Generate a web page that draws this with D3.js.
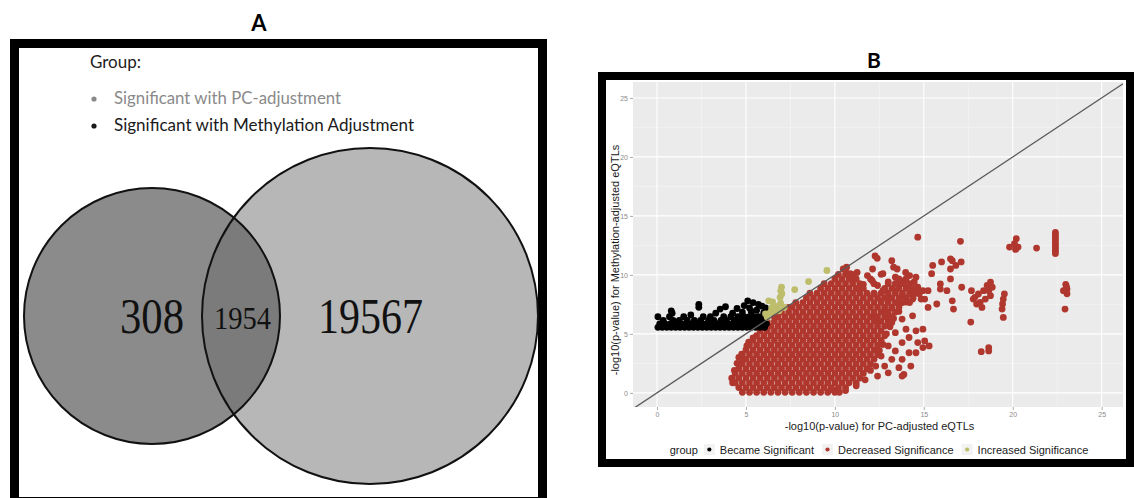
<!DOCTYPE html>
<html>
<head>
<meta charset="utf-8">
<script src="https://cdn.jsdelivr.net/npm/d3@7"></script>
<style>
    body{margin:0;background:#fff;}
    svg{display:block;}
</style>
</head>
<body>
<svg id="chart" width="1134" height="498"></svg>
<script>
/**
 * Panel A: the two groups of the venn diagram and the counts
 * (only PC, both, only methylation)
 */
var vennGroups = ["Significant with PC-adjustment", "Significant with Methylation Adjustment"];
var vennCounts = [308, 1954, 19567];

/**
 * Panel B: groups, axis ticks and the points per group [x, y]
 */
var groups = ["Became Significant", "Decreased Significance", "Increased Significance"];
var xTicks = [0, 5, 10, 15, 20, 25];
var yTicks = [0, 5, 10, 15, 20, 25];

var becameSignificant = [
    [0.05,5.55],[0.3,5.55],[0.55,5.55],[0.8,5.55],[1.05,5.55],[1.3,5.55],[1.55,5.55],[1.8,5.55],[2.05,5.55],[2.3,5.55],
    [2.55,5.55],[2.8,5.55],[3.05,5.55],[3.3,5.55],[3.55,5.55],[3.8,5.55],[4.05,5.55],[4.3,5.55],[4.55,5.55],[4.8,5.55],
    [5.05,5.55],[5.3,5.55],[5.55,5.55],[5.8,5.55],[6.05,5.55],
    [0.15,5.85],[0.45,5.85],[0.75,5.85],[1.0,5.85],[1.35,5.85],[1.6,5.85],[1.95,5.85],[2.2,5.85],[2.5,5.85],[2.75,5.85],
    [3.1,5.85],[3.4,5.85],[3.65,5.85],[3.95,5.85],[4.2,5.85],[4.5,5.85],[4.75,5.85],[5.0,5.85],[5.3,5.85],[5.6,5.85],
    [5.85,5.85],[6.15,5.85],
    [0.35,6.15],[0.9,6.15],[1.25,6.15],[1.7,6.15],[2.1,6.15],[2.45,6.15],[2.9,6.15],[3.2,6.15],[3.6,6.15],[3.9,6.15],
    [4.35,6.15],[4.65,6.15],[4.95,6.15],[5.25,6.15],[5.5,6.15],[5.75,6.15],[6.0,6.15],
    [0.05,6.45],[0.7,6.45],[1.5,6.45],[2.6,6.45],[3.0,6.45],[3.75,6.45],[4.15,6.45],[4.55,6.45],[4.9,6.45],[5.2,6.45],
    [5.45,6.45],[5.7,6.45],[5.95,6.45],
    [0.8,6.95],[0.85,6.75],[2.35,7.5],[2.35,7.25],[3.55,7.1],[3.85,7.3],[4.25,6.75],[4.5,7.15],[4.8,6.85],[5.1,7.8],
    [5.4,7.65],[5.7,7.5],[5.9,7.35],[6.1,7.2],[5.2,7.2],[4.9,7.4],[5.6,7.0],[5.3,6.9],[6.0,6.8],[1.9,6.6],[3.3,6.75]
];

var increasedSignificance = [
    [6.2,6.4],[6.37,6.8],[6.28,7.8],[6.5,7.7],[6.76,7.33],[6.92,8.1],[6.96,8.66],[7.0,8.95],[7.02,8.4],[6.86,6.96],
    [7.15,7.24],[7.74,8.75],[8.52,9.43],[9.55,10.37],[6.1,6.7],[6.45,7.2],[6.6,6.9],[6.95,7.6]
];

// dense part of the decreased significance cloud, one row per y value
var decreasedRows = [
    [0.05,  [4.8,5.2,5.6,6.0,6.4,6.8,7.2,7.6,8.0,8.4,8.8,9.2,9.6,10.0,10.25]],
    [0.45,  [4.6,5.0,5.4,5.8,6.2,6.6,7.0,7.4,7.8,8.2,8.6,9.0,9.4,9.8,10.2,10.6]],
    [0.85,  [4.25,4.4,4.8,5.2,5.6,6.0,6.4,6.8,7.2,7.6,8.0,8.4,8.8,9.2,9.6,10.0,10.4,10.8,11.2]],
    [1.25,  [4.2,4.6,5.0,5.4,5.8,6.2,6.6,7.0,7.4,7.8,8.2,8.6,9.0,9.4,9.8,10.2,10.6,11.0,11.4]],
    [1.65,  [4.4,4.8,5.2,5.6,6.0,6.4,6.8,7.2,7.6,8.0,8.4,8.8,9.2,9.6,10.0,10.4,10.8,11.2,11.6]],
    [2.05,  [4.6,5.0,5.4,5.8,6.2,6.6,7.0,7.4,7.8,8.2,8.6,9.0,9.4,9.8,10.2,10.6,11.0,11.4,11.8]],
    [2.45,  [4.8,5.2,5.6,6.0,6.4,6.8,7.2,7.6,8.0,8.4,8.8,9.2,9.6,10.0,10.4,10.8,11.2,11.6,12.0]],
    [2.85,  [4.8,5.0,5.4,5.8,6.2,6.6,7.0,7.4,7.8,8.2,8.6,9.0,9.4,9.8,10.2,10.6,11.0,11.4,11.8,12.2]],
    [3.25,  [4.8,5.2,5.6,6.0,6.4,6.8,7.2,7.6,8.0,8.4,8.8,9.2,9.6,10.0,10.4,10.8,11.2,11.6,12.0,12.4]],
    [3.65,  [5.0,5.4,5.8,6.2,6.6,7.0,7.4,7.8,8.2,8.6,9.0,9.4,9.8,10.2,10.6,11.0,11.4,11.8,12.2]],
    [4.05,  [5.2,5.6,6.0,6.4,6.8,7.2,7.6,8.0,8.4,8.8,9.2,9.6,10.0,10.4,10.8,11.2,11.6,12.0,12.4]],
    [4.45,  [5.4,5.8,6.2,6.6,7.0,7.4,7.8,8.2,8.6,9.0,9.4,9.8,10.2,10.6,11.0,11.4,11.8,12.2,12.6]],
    [4.85,  [5.6,6.0,6.4,6.8,7.2,7.6,8.0,8.4,8.8,9.2,9.6,10.0,10.4,10.8,11.2,11.6,12.0,12.4]],
    [5.25,  [5.8,6.2,6.6,7.0,7.4,7.8,8.2,8.6,9.0,9.4,9.8,10.2,10.6,11.0,11.4,11.8,12.2,12.6]],
    [5.65,  [6.0,6.4,6.8,7.2,7.6,8.0,8.4,8.8,9.2,9.6,10.0,10.4,10.8,11.2,11.6,12.0,12.4,12.8]],
    [6.05,  [6.2,6.6,7.0,7.4,7.8,8.2,8.6,9.0,9.4,9.8,10.2,10.6,11.0,11.4,11.8,12.2,12.6,13.0]],
    [6.45,  [6.6,6.8,7.2,7.6,8.0,8.4,8.8,9.2,9.6,10.0,10.4,10.8,11.2,11.6,12.0,12.4,12.8,13.2]],
    [6.85,  [7.0,7.4,7.8,8.2,8.6,9.0,9.4,9.8,10.2,10.6,11.0,11.4,11.8,12.2,12.6,13.0,13.4]],
    [7.25,  [7.4,7.6,8.0,8.4,8.8,9.2,9.6,10.0,10.4,10.8,11.2,11.6,12.0,12.4,12.8,13.2,13.6]],
    [7.65,  [7.8,8.2,8.6,9.0,9.4,9.8,10.2,10.6,11.0,11.4,11.8,12.2,12.6,13.0,13.4,13.8,14.2]],
    [8.05,  [8.4,8.8,9.2,9.6,10.0,10.4,10.8,11.2,11.6,12.0,12.4,12.8,13.2,13.6,14.0,14.4]],
    [8.45,  [8.6,9.0,9.4,9.8,10.2,10.6,11.0,11.4,11.8,12.2,12.6,13.0,13.4,13.8,14.2,14.6]],
    [8.85,  [9.2,9.6,10.0,10.4,10.8,11.2,11.6,12.8,13.2,13.6,14.0,14.4]],
    [9.25,  [9.4,9.8,10.2,10.6,11.0,11.4,12.2,13.0,13.4,13.8,14.2]],
    [9.65,  [10.0,10.4,10.8,11.2,12.0,13.6,14.0]],
    [10.05, [10.2,10.6,11.0,12.6]],
    [10.45, [10.6]]
];

// the scattered part of the decreased significance cloud
var decreasedScatter = [
    [4.23,1.2],[4.76,3.27],[5.05,3.98],[9.78,0.28],[10.1,0.23],
    [4.35,1.9],[4.5,2.5],[4.6,3.0],[5.15,4.3],[5.4,4.65],[5.9,5.5],
    [12.5,3.6],[12.7,4.1],[12.9,5.0],[13.1,5.6],[13.3,6.3],[13.6,6.9],[12.0,1.9],[11.7,1.1],[11.2,0.6],[10.6,0.2],
    [11.83,9.94],[12.12,10.5],[12.26,11.6],[12.38,11.4],[12.7,10.1],[13.2,11.2],[13.3,10.65],[13.4,9.8],[13.9,9.5],[14.2,9.94],
    [14.46,9.4],[14.66,8.95],[14.75,8.4],[14.37,7.95],[13.8,8.2],[13.4,8.66],[13.0,8.1],[12.6,7.8],[12.4,9.1],[13.0,9.4],
    [13.6,9.2],[14.07,8.95],[14.56,8.5],[14.27,8.4],[14.0,7.7],[13.6,7.5],[13.2,7.2],[12.8,7.0],[12.7,8.66],[12.2,8.4],
    [12.1,9.5],[11.6,9.2],[11.3,8.8],[11.05,9.66],[10.86,10.1],[10.66,10.65],[10.47,10.5],[11.25,10.2],[14.85,7.95],[14.95,8.66],
    [14.56,9.8],[13.98,10.2],[13.5,10.5],
    [14.56,5.26],[14.95,5.4],[15.05,4.4],[15.3,3.98],[14.95,3.84],[14.17,3.4],[14.27,2.27],[13.88,1.56],[13.6,2.13],[13.2,2.84],
    [13.4,3.55],[13.0,3.98],[13.78,4.26],[14.17,4.69],[13.4,5.1],[12.8,4.83],[12.6,3.12],[12.8,2.27],[12.4,1.42],[13.0,1.7],
    [13.78,2.84],[14.56,3.4],[14.66,4.26],[14.0,5.4],[13.2,5.97],[13.78,6.25],[14.37,6.53],[13.0,6.53],[12.4,5.97],[12.2,6.5],
    [12.3,2.27],[13.78,1.42],
    [15.44,10.1],[15.93,9.23],[16.0,11.1],[16.5,11.36],[16.5,10.5],[17.1,11.1],[17.06,12.84],[17.13,8.95],[16.6,7.8],[16.67,7.1],
    [15.24,8.66],[15.05,7.95],[15.24,7.24],[15.73,7.53],[15.93,8.8],[16.3,8.66],[16.5,9.66],[16.8,10.8],[16.6,11.2],[15.5,10.8],
    [14.66,13.2],
    [17.64,6.0],[17.68,8.66],[17.87,8.1],[18.07,8.38],[18.17,7.67],[18.36,8.66],[18.56,9.1],[18.65,8.66],[18.75,8.24],[18.46,7.95],
    [18.27,7.24],[17.97,7.53],[17.78,7.95],[18.85,8.95],[18.75,9.38],[18.65,3.55],[18.65,3.84],[18.23,3.49],[19.47,6.39],[19.43,7.53],
    [19.47,7.95],[19.4,7.1],[19.53,8.38],
    [19.82,12.36],[20.1,12.64],[20.2,13.07],[20.16,12.16],[20.3,12.36],[21.34,12.27],
    [22.4,13.6],[22.4,13.4],[22.4,13.2],[22.4,13.0],[22.4,12.8],[22.4,12.6],[22.4,12.4],[22.4,12.2],[22.4,12.0],[22.4,11.8],
    [22.98,9.2],[23.02,9.0],[23.05,8.8],[23.0,8.6],[23.05,8.4],[22.85,8.66],[22.94,7.1]
];

var groupColors = ["#000000", "#b0372e", "#bdbd6c"];

var svg = d3.select('#chart');

/**
 * Draws the venn diagram of panel A
 */
var drawVenn = function(){
    var g = svg.append('g').classed('panel-a', true);

    //panel title
    g.append('text').attr('x', 259).attr('y', 31)
        .attr('text-anchor', 'middle')
        .style('font', 'bold 22px Lato, "Open Sans", sans-serif')
        .text('A');

    //thick frame
    g.append('rect').attr('x', 14.5).attr('y', 43.5)
        .attr('width', 528).attr('height', 458)
        .attr('fill', '#fff').attr('stroke', '#000').attr('stroke-width', 9);

    //legend
    var legendFont = '17px Lato, "Open Sans", sans-serif';
    g.append('text').attr('x', 90).attr('y', 68)
        .style('font', legendFont).attr('fill', '#222').text('Group:');
    var legendColors = ['#8a8a8a', '#1a1a1a'];
    var legendWidths = [227, 300];
    vennGroups.forEach(function(name, i){
        var cy = 99 + i * 27;
        g.append('circle').attr('cx', 94).attr('cy', cy).attr('r', 2.6).attr('fill', legendColors[i]);
        g.append('text').attr('x', 114).attr('y', cy + 5)
            .style('font', legendFont).attr('fill', legendColors[i])
            .attr('textLength', legendWidths[i]).attr('lengthAdjust', 'spacingAndGlyphs')
            .text(name);
    });

    //the two circles, right one first
    var circles = [{cx: 152, cy: 316, r: 128}, {cx: 370, cy: 316, r: 168}];
    g.append('circle').attr('cx', circles[1].cx).attr('cy', circles[1].cy).attr('r', circles[1].r)
        .attr('fill', '#b7b7b7');
    g.append('circle').attr('cx', circles[0].cx).attr('cy', circles[0].cy).attr('r', circles[0].r)
        .attr('fill', '#6a6a6a').attr('fill-opacity', 0.78);
    g.selectAll('circle.outline').data(circles).enter()
        .append('circle').classed('outline', true)
        .attr('cx', function(d){return d.cx;}).attr('cy', function(d){return d.cy;})
        .attr('r', function(d){return d.r;})
        .attr('fill', 'none').attr('stroke', '#111').attr('stroke-width', 2);

    //counts
    var labels = [
        {x: 152, y: 333, size: 50, w: 64},
        {x: 242.5, y: 329, size: 32, w: 57},
        {x: 370.5, y: 333, size: 50, w: 105}
    ];
    g.selectAll('text.count').data(vennCounts).enter()
        .append('text').classed('count', true)
        .attr('x', function(d, i){return labels[i].x - labels[i].w / 2;})
        .attr('y', function(d, i){return labels[i].y;})
        .attr('textLength', function(d, i){return labels[i].w;})
        .attr('lengthAdjust', 'spacingAndGlyphs')
        .style('font-family', '"Liberation Serif", "Times New Roman", serif')
        .style('font-size', function(d, i){return labels[i].size + 'px';})
        .attr('fill', '#111')
        .text(function(d){return d;});
};

/**
 * Draws the scatter plot of panel B
 */
var drawScatter = function(){
    var g = svg.append('g').classed('panel-b', true);
    var panel = {left: 633, right: 1123, top: 82, bottom: 407};

    var x = d3.scaleLinear().domain([-1.35, 26.2]).range([panel.left, panel.right]);
    var y = d3.scaleLinear().domain([-1.2, 26.35]).range([panel.bottom, panel.top]);
    var color = d3.scaleOrdinal().domain(groups).range(groupColors);

    g.append('text').attr('x', 874).attr('y', 68)
        .attr('text-anchor', 'middle')
        .style('font', 'bold 21px Lato, "Open Sans", sans-serif')
        .text('B');

    g.append('rect').attr('x', 602).attr('y', 76)
        .attr('width', 528).attr('height', 387)
        .attr('fill', '#fff').attr('stroke', '#000').attr('stroke-width', 8);

    //gray panel with grid
    g.append('rect').attr('x', panel.left).attr('y', panel.top)
        .attr('width', panel.right - panel.left).attr('height', panel.bottom - panel.top)
        .attr('fill', '#ebebeb');

    var minor = d3.range(2.5, 25, 5);
    g.selectAll('line.vminor').data(minor).enter().append('line')
        .attr('x1', x).attr('x2', x).attr('y1', panel.top).attr('y2', panel.bottom)
        .attr('stroke', '#f7f7f7').attr('stroke-width', 0.6);
    g.selectAll('line.hminor').data(minor).enter().append('line')
        .attr('y1', y).attr('y2', y).attr('x1', panel.left).attr('x2', panel.right)
        .attr('stroke', '#f7f7f7').attr('stroke-width', 0.6);

    //axes with small tick marks
    var xAxis = g.append('g').attr('transform', 'translate(0,' + panel.bottom + ')')
        .call(d3.axisBottom(x).tickValues(xTicks).tickSize(3).tickPadding(2));
    xAxis.select('.domain').remove();
    xAxis.selectAll('.tick line').attr('stroke', '#aaa');
    var yAxis = g.append('g').attr('transform', 'translate(' + panel.left + ',0)')
        .call(d3.axisLeft(y).tickValues(yTicks).tickSize(3).tickPadding(2));
    yAxis.select('.domain').remove();
    yAxis.selectAll('.tick line').attr('stroke', '#aaa');
    g.selectAll('.tick text').attr('fill', '#8a8a8a')
        .style('font', '7px "Liberation Sans", Arial, sans-serif');

    g.selectAll('line.vmajor').data(xTicks).enter().append('line')
        .attr('x1', x).attr('x2', x).attr('y1', panel.top).attr('y2', panel.bottom)
        .attr('stroke', '#fff').attr('stroke-width', 1.1);
    g.selectAll('line.hmajor').data(yTicks).enter().append('line')
        .attr('y1', y).attr('y2', y).attr('x1', panel.left).attr('x2', panel.right)
        .attr('stroke', '#fff').attr('stroke-width', 1.1);

    //all the points in data order: decreased, became, increased
    var decreased = decreasedScatter.slice();
    decreasedRows.forEach(function(row){
        row[1].forEach(function(px){ decreased.push([px, row[0]]); });
    });
    var layers = [
        {group: groups[1], data: decreased},
        {group: groups[0], data: becameSignificant},
        {group: groups[2], data: increasedSignificance}
    ];
    g.append('clipPath').attr('id', 'panel-clip').append('rect')
        .attr('x', panel.left).attr('y', panel.top)
        .attr('width', panel.right - panel.left).attr('height', panel.bottom - panel.top);
    var points = g.append('g').attr('clip-path', 'url(#panel-clip)');
    layers.forEach(function(layer){
        points.append('g').selectAll('circle').data(layer.data).enter()
            .append('circle')
            .attr('cx', function(d){return x(d[0]);})
            .attr('cy', function(d){return y(d[1]);})
            .attr('r', 3.4)
            .attr('fill', color(layer.group));
    });

    //the y = x line
    points.append('line')
        .attr('x1', x(-1.35)).attr('y1', y(-1.35))
        .attr('x2', x(26.2)).attr('y2', y(26.2))
        .attr('stroke', '#5a5a5a').attr('stroke-width', 1.3);

    //axis titles
    var titleFont = '11px "Liberation Sans", Arial, sans-serif';
    g.append('text').attr('x', 879.5).attr('y', 430)
        .attr('text-anchor', 'middle').style('font', titleFont).attr('fill', '#1a1a1a')
        .text('-log10(p-value) for PC-adjusted eQTLs');
    g.append('text').attr('transform', 'translate(619,260) rotate(-90)')
        .attr('text-anchor', 'middle').style('font', titleFont).attr('fill', '#1a1a1a')
        .text('-log10(p-value) for Methylation-adjusted eQTLs');

    //legend at the bottom
    var legend = g.append('g');
    var cursor = 0;
    var lgTitle = legend.append('text').attr('x', cursor).attr('y', 4)
        .style('font', titleFont).attr('fill', '#1a1a1a').text('group');
    cursor += lgTitle.node().getComputedTextLength() + 6;
    groups.forEach(function(name){
        legend.append('rect').attr('x', cursor).attr('y', -6).attr('width', 11).attr('height', 11)
            .attr('fill', '#f2f2f2');
        legend.append('circle').attr('cx', cursor + 5.5).attr('cy', -0.5).attr('r', 2.1)
            .attr('fill', color(name));
        cursor += 16;
        var t = legend.append('text').attr('x', cursor).attr('y', 4)
            .style('font', titleFont).attr('fill', '#1a1a1a').text(name);
        cursor += t.node().getComputedTextLength() + 8;
    });
    cursor -= 8;
    legend.attr('transform', 'translate(' + (879 - cursor / 2) + ',450)');
};

drawVenn();
drawScatter();
</script>
</body>
</html>
